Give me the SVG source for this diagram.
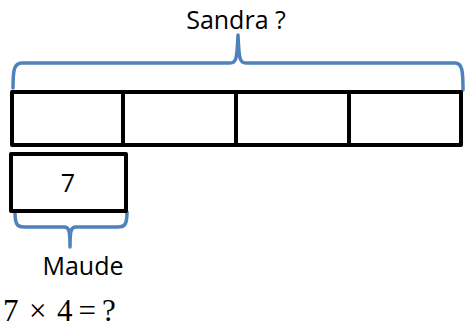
<svg xmlns="http://www.w3.org/2000/svg" width="466" height="327" viewBox="0 0 466 327">
<style>
.box{fill:#fff;stroke:#000;stroke-width:4;stroke-linejoin:round}
.brace{fill:none;stroke:#4f81bd;stroke-width:3.5;stroke-linejoin:round;stroke-linecap:round}
.lbl{font-family:"Open Sans","Noto Sans",sans-serif;font-size:25px;fill:#000}
.math{font-family:"Liberation Serif",serif;font-size:31px;fill:#000}
</style>
<rect width="466" height="327" fill="#fff"/>
<g id="connectors">
<path class="brace" d="M13,88 C13,70 14,63 22,63 L230,63 C236,63 237,60 238,35 C239,60 240,63 246,63 L455,63 C462,63 463,70 463,90"/>
<path class="brace" d="M15,212 C15,224 17,227 24,227 L64,227 C69,227 70,230 70,247 C70,230 71,227 76,227 L118,227 C125,227 127,224 127,212"/>
</g>
<g id="label-sandra"><text class="lbl" x="236" y="29" text-anchor="middle">Sandra ?</text></g>
<g id="bar-sandra">
<rect class="box" x="12" y="92" width="111" height="53"/>
<rect class="box" x="123" y="92" width="113" height="53"/>
<rect class="box" x="236" y="92" width="113" height="53"/>
<rect class="box" x="349" y="92" width="112" height="53"/>
</g>
<g id="bar-maude">
<rect class="box" x="11" y="154" width="115" height="57"/>
<text class="lbl" x="68" y="192" text-anchor="middle">7</text>
</g>
<g id="label-maude"><text class="lbl" x="83" y="275" text-anchor="middle">Maude</text></g>
<g id="equation">
<text class="math" y="321"><tspan x="3">7</tspan><tspan x="29">×</tspan><tspan x="57">4</tspan><tspan x="78.5">=</tspan><tspan x="102">?</tspan></text>
</g>
</svg>
